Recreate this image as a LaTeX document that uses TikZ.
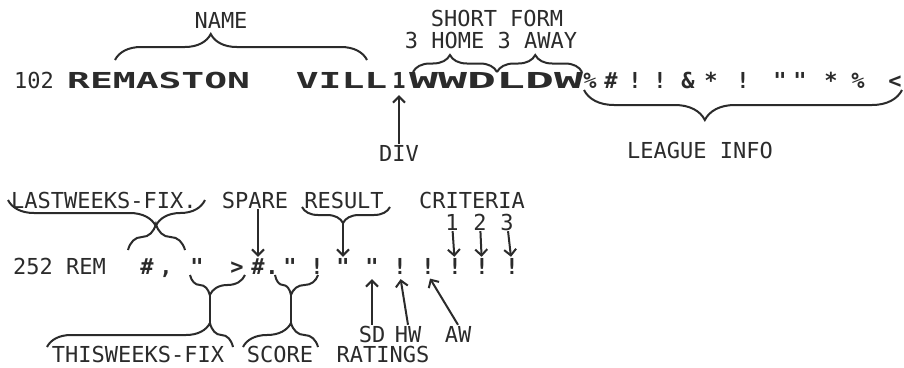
\documentclass[tikz,border=0pt]{standalone}
\usepackage{fontspec}
\setmonofont{DejaVu Sans Mono}
\usetikzlibrary{arrows.meta,decorations.pathreplacing}
\definecolor{ink}{HTML}{2B2B2B}
\tikzset{
  >={Straight Barb[length=6pt,width=12pt]},
  lbl/.style={font=\ttfamily\fontsize{22}{22}\selectfont,text=ink,inner sep=1pt,text height=16pt,text depth=0pt},
  glyph/.style={font=\ttfamily\bfseries\fontsize{22}{22}\selectfont,text=ink,inner sep=1pt,text height=16pt,text depth=0pt},
  pointer/.style={->,line width=2pt,color=ink},
  curlup/.style 2 args={decorate,decoration={brace,amplitude=#1,aspect=#2},line width=2pt,color=ink},
  curldown/.style 2 args={decorate,decoration={brace,mirror,amplitude=#1,aspect=#2},line width=2pt,color=ink},
}
\begin{document}
\begin{tikzpicture}[x=1pt,y=-1pt]
  \useasboundingbox[fill=white] (0,0) rectangle (904,367);
  % record 102
  \node[lbl,anchor=west] (num102) at (13,80) {102};
  \node[glyph,anchor=west] (team) at (66,80) {\resizebox{320pt}{\height}{REMASTON\ \ VILL}};
  \node[glyph] (divch) at (399,80) {1};
  \node[glyph,anchor=west] (form) at (408,80) {\resizebox{174pt}{\height}{WWDLDW}};
  \foreach \x/\g [count=\i] in {590/\%,611/\#,635/!,660/!,688/\&,711/*,743/!,780/",800/",831/*,858/\%,895/<}
    \node[glyph] (lg\i) at (\x,80) {\g};
  % labels round record 102
  \node[lbl] (namelab) at (221,20) {NAME};
  \node[lbl] (sflab) at (497,18) {SHORT FORM};
  \node[lbl] (halab) at (491,40) {3 HOME 3 AWAY};
  \node[lbl] (divlab) at (399,153) {DIV};
  \node[lbl] (leaguelab) at (700,150) {LEAGUE INFO};
  \coordinate (nm1) at (115,60); \coordinate (nm2) at (367,60);
  \coordinate (sf1) at (413,72); \coordinate (sf2) at (497,72); \coordinate (sf3) at (582,72);
  \coordinate (li1) at (584,90); \coordinate (li2) at (902,90);
  \draw[curlup={26pt}{0.38}] (nm1) -- (nm2);
  \draw[curlup={17pt}{0.44}] (sf1) -- (sf2);
  \draw[curlup={17pt}{0.45}] (sf2) -- (sf3);
  \draw[curldown={30pt}{0.38}] (li1) -- (li2);
  \draw[pointer,shorten >=6pt] (divlab) -- (divch);

  % record 252
  \node[lbl,anchor=west] (num252) at (12,266) {252 REM};
  \foreach \x/\g [count=\i] in {147/\#,166/{,},197/",237/>,258/\#,272/.,290/",317/!,343/",372/",400/!,428/!,455/!,482/!,512/!}
    \node[glyph] (r\i) at (\x,266) {\g};
  % labels round record 252
  \node[lbl,anchor=west] (lastlab) at (10,200) {LASTWEEKS-FIX.};
  \node[lbl] (sparelab) at (255,200) {SPARE};
  \node[lbl] (resultlab) at (344,200) {RESULT};
  \node[lbl] (critlab) at (472,200) {CRITERIA};
  \node[lbl] (crit1) at (452,222) {1};
  \node[lbl] (crit2) at (480,222) {2};
  \node[lbl] (crit3) at (507,222) {3};
  \node[lbl] (sdlab) at (372,334) {SD};
  \node[lbl] (hwlab) at (408,334) {HW};
  \node[lbl] (awlab) at (458,334) {AW};
  \node[lbl] (ratlab) at (383,354) {RATINGS};
  \node[lbl] (thislab) at (138,354) {THISWEEKS-FIX};
  \node[lbl] (scorelab) at (280,354) {SCORE};

  \coordinate (lw1) at (8,200); \coordinate (lw2) at (205,200);
  \coordinate (lw3) at (128,250); \coordinate (lw4) at (185,250);
  \draw[curldown={26pt}{0.75}] (lw1) -- (lw2);
  \draw[curlup={26pt}{0.49}] (lw3) -- (lw4);

  \coordinate (rs1) at (302,207); \coordinate (rs2) at (390,207);
  \coordinate (rstip) at (343,223);
  \draw[curldown={16pt}{0.466}] (rs1) -- (rs2);
  \draw[pointer] (rstip) -- (r9.north);
  \draw[pointer] (r5 |- sparelab.south) -- (r5.north);

  \coordinate (tw1) at (190,275); \coordinate (tw2) at (245,275);
  \coordinate (tw3) at (47,347); \coordinate (tw4) at (233,347);
  \coordinate (twtop) at (210,295); \coordinate (twbot) at (210,323);
  \draw[curldown={20pt}{0.36}] (tw1) -- (tw2);
  \draw[curlup={24pt}{0.876}] (tw3) -- (tw4);
  \draw[line width=2pt,color=ink] (twtop) -- (twbot);

  \coordinate (sc1) at (275,275); \coordinate (sc2) at (318,275);
  \coordinate (sc3) at (243,347); \coordinate (sc4) at (318,347);
  \coordinate (sctop) at (291,295); \coordinate (scbot) at (291,323);
  \draw[curldown={20pt}{0.372}] (sc1) -- (sc2);
  \draw[curlup={24pt}{0.64}] (sc3) -- (sc4);
  \draw[line width=2pt,color=ink] (sctop) -- (scbot);

  \draw[pointer,shorten >=4pt] (sdlab) -- (r10);
  \draw[pointer,shorten >=4pt] (hwlab.north) -- (r11.south);
  \draw[pointer,shorten >=4pt] (awlab.north) -- (r12.south);
  \draw[pointer] (crit1) -- (r13);
  \draw[pointer] (crit2) -- (r14);
  \draw[pointer] (crit3) -- (r15);
\end{tikzpicture}
\end{document}
